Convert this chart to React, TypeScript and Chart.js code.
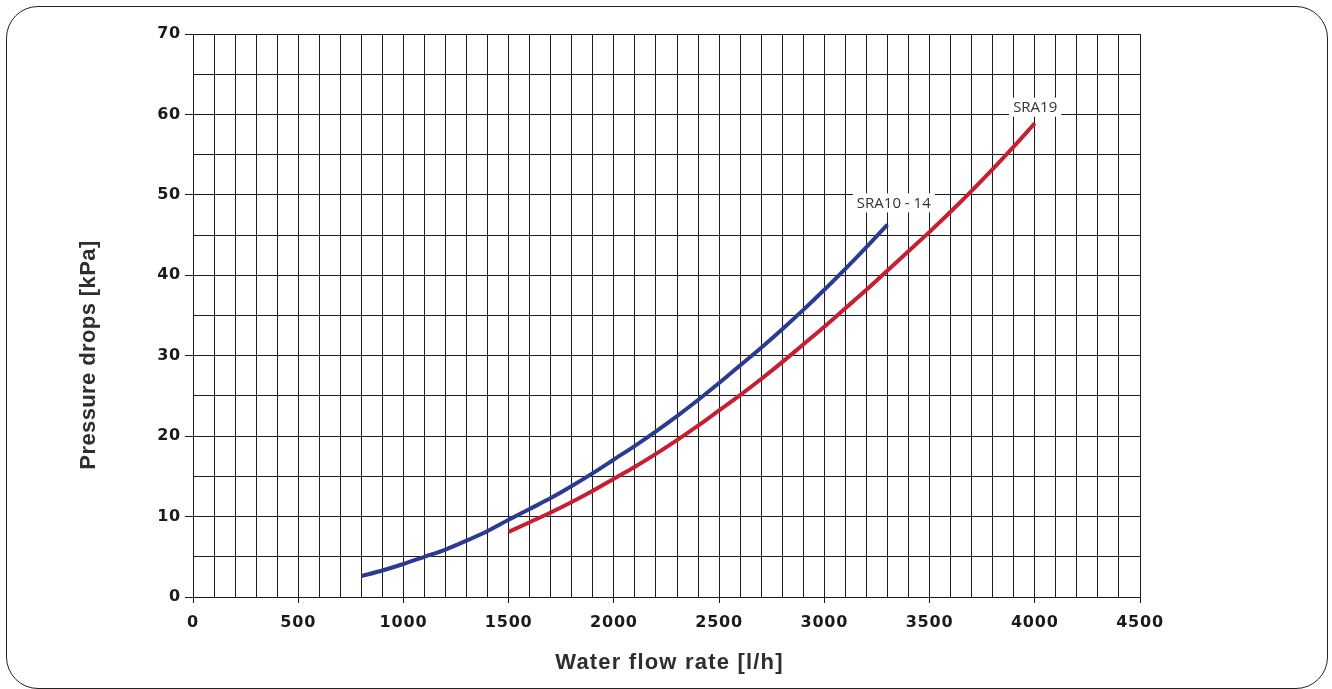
import { useEffect, useRef } from "react";
import { Chart, registerables } from "chart.js";

Chart.register(...registerables);

// ---- data ----
const xTickLabels = ["0", "500", "1000", "1500", "2000", "2500", "3000", "3500", "4000", "4500"];
const yTickLabels = ["0", "10", "20", "30", "40", "50", "60", "70"];

const sra1014Flow = [800, 900, 1000, 1100, 1200, 1300, 1400, 1500, 1600, 1700, 1800, 1900, 2000, 2100, 2200, 2300, 2400, 2500, 2600, 2700, 2800, 2900, 3000, 3100, 3200, 3300];
const sra1014Drop = [2.6, 3.3, 4.1, 5.0, 5.9, 7.0, 8.2, 9.6, 10.95, 12.3, 13.8, 15.4, 17.1, 18.8, 20.6, 22.5, 24.5, 26.6, 28.8, 31.0, 33.3, 35.7, 38.2, 40.8, 43.5, 46.3];

const sra19Flow = [1500, 1600, 1700, 1800, 1900, 2000, 2100, 2200, 2300, 2400, 2500, 2600, 2700, 2800, 2900, 3000, 3100, 3200, 3300, 3400, 3500, 3600, 3700, 3800, 3900, 4000];
const sra19Drop = [8.1, 9.3, 10.5, 11.8, 13.2, 14.7, 16.2, 17.8, 19.5, 21.3, 23.2, 25.1, 27.1, 29.2, 31.4, 33.6, 35.9, 38.2, 40.6, 43.0, 45.4, 47.9, 50.5, 53.2, 56.0, 58.9];

const seriesNames = ["SRA10 - 14", "SRA19"];
const labelFlow = [3330, 4002];
const labelDrop = [49.0, 60.9];

const xTitle = "Water flow rate [l/h]";
const yTitle = "Pressure drops [kPa]";

const BLUE = "#2c3a91";
const RED = "#c71f31";
const GRID = "#1c1c1c";
const TEXT = "#1a1a1a";
const TITLE = "#2e2e2e";
const TITLE_FONT = "bold 22px 'Liberation Sans'";

const spacingPlugin = {
  id: "spacing",
  beforeDraw(chart: any) {
    (chart.ctx as any).letterSpacing = "0.8px";
  },
  afterDraw(chart: any) {
    (chart.ctx as any).letterSpacing = "0px";
  },
};

const labelsPlugin = {
  id: "seriesLabels",
  afterDatasetsDraw(chart: any) {
    const ctx = chart.ctx as CanvasRenderingContext2D;
    const xs = chart.scales.x;
    const ys = chart.scales.y;
    ctx.save();
    (ctx as any).letterSpacing = "0px";
    ctx.font = "15px 'Open Sans'";
    ctx.textAlign = "center";
    ctx.textBaseline = "middle";
    seriesNames.forEach((name, i) => {
      const px = xs.getPixelForValue(labelFlow[i]);
      const py = ys.getPixelForValue(labelDrop[i]);
      const w = ctx.measureText(name).width + 8;
      const h = 19;
      ctx.fillStyle = "#ffffff";
      ctx.fillRect(px - w / 2, py - h / 2, w, h);
      ctx.fillStyle = "#333333";
      ctx.fillText(name, px, py + 1);
    });
    ctx.restore();
  },
  afterDraw(chart: any) {
    const ctx = chart.ctx as CanvasRenderingContext2D;
    const area = chart.chartArea;
    ctx.save();
    ctx.font = TITLE_FONT;
    ctx.fillStyle = TITLE;
    ctx.textAlign = "center";
    ctx.textBaseline = "middle";
    (ctx as any).letterSpacing = "1.2px";
    ctx.fillText(xTitle, (area.left + area.right) / 2 + 3, 663);
    (ctx as any).letterSpacing = "0.4px";
    ctx.translate(89, 355);
    ctx.rotate(-Math.PI / 2);
    ctx.fillText(yTitle, 0, 0);
    ctx.restore();
  },
};

export default function App() {
  const ref = useRef<HTMLCanvasElement | null>(null);

  useEffect(() => {
    if (!ref.current) return;
    const tickFont = { family: "'DejaVu Sans'", weight: "bold", size: 16 };
    const chart = new Chart(ref.current, {
      type: "line",
      data: {
        datasets: [
          {
            label: seriesNames[0],
            data: sra1014Flow.map((x, i) => ({ x, y: sra1014Drop[i] })),
            borderColor: BLUE,
            borderWidth: 4,
            pointRadius: 0,
            cubicInterpolationMode: "monotone",
            fill: false,
          },
          {
            label: seriesNames[1],
            data: sra19Flow.map((x, i) => ({ x, y: sra19Drop[i] })),
            borderColor: RED,
            borderWidth: 4,
            pointRadius: 0,
            cubicInterpolationMode: "monotone",
            fill: false,
          },
        ],
      },
      options: {
        animation: false,
        responsive: false,
        devicePixelRatio: 1,
        events: [],
        layout: { padding: { left: 0, right: 192, top: 34, bottom: 0 } },
        plugins: {
          legend: { display: false },
          tooltip: { enabled: false },
        },
        scales: {
          x: {
            type: "linear",
            min: 0,
            max: 4500,
            afterFit: (s: any) => {
              s.height = 92;
            },
            ticks: {
              stepSize: 100,
              autoSkip: false,
              maxRotation: 0,
              maxTicksLimit: 100,
              padding: 10,
              color: TEXT,
              font: tickFont,
              callback: (v: any) => {
                const s = String(v);
                return xTickLabels.includes(s) ? s : "";
              },
            },
            grid: {
              color: GRID,
              lineWidth: 1,
              tickLength: 6,
              tickColor: (c: any) => (c.tick && c.tick.value % 500 === 0 ? GRID : "rgba(0,0,0,0)"),
            },
            border: { color: GRID, width: 1 },
          },
          y: {
            type: "linear",
            min: 0,
            max: 70,
            afterFit: (s: any) => {
              s.width = 193;
            },
            ticks: {
              stepSize: 5,
              autoSkip: false,
              maxTicksLimit: 100,
              padding: 4,
              color: TEXT,
              font: tickFont,
              callback: (v: any) => {
                const s = String(v);
                return yTickLabels.includes(s) ? s : "";
              },
            },
            grid: {
              color: GRID,
              lineWidth: 1,
              tickLength: 8,
              tickColor: (c: any) => (c.tick && c.tick.value % 10 === 0 ? GRID : "rgba(0,0,0,0)"),
            },
            border: { color: GRID, width: 1 },
          },
        },
      } as any,
      plugins: [spacingPlugin, labelsPlugin],
    });
    return () => chart.destroy();
  }, []);

  return (
    <div>
      <div
        style={{
          position: "absolute",
          left: 6,
          top: 6,
          width: 1322,
          height: 683,
          boxSizing: "border-box",
          border: "1.5px solid #222",
          borderRadius: 32,
        }}
      />
      <canvas
        ref={ref}
        width={1332}
        height={689}
        style={{ position: "absolute", left: 0, top: 0, width: 1332, height: 689 }}
      />
    </div>
  );
}
